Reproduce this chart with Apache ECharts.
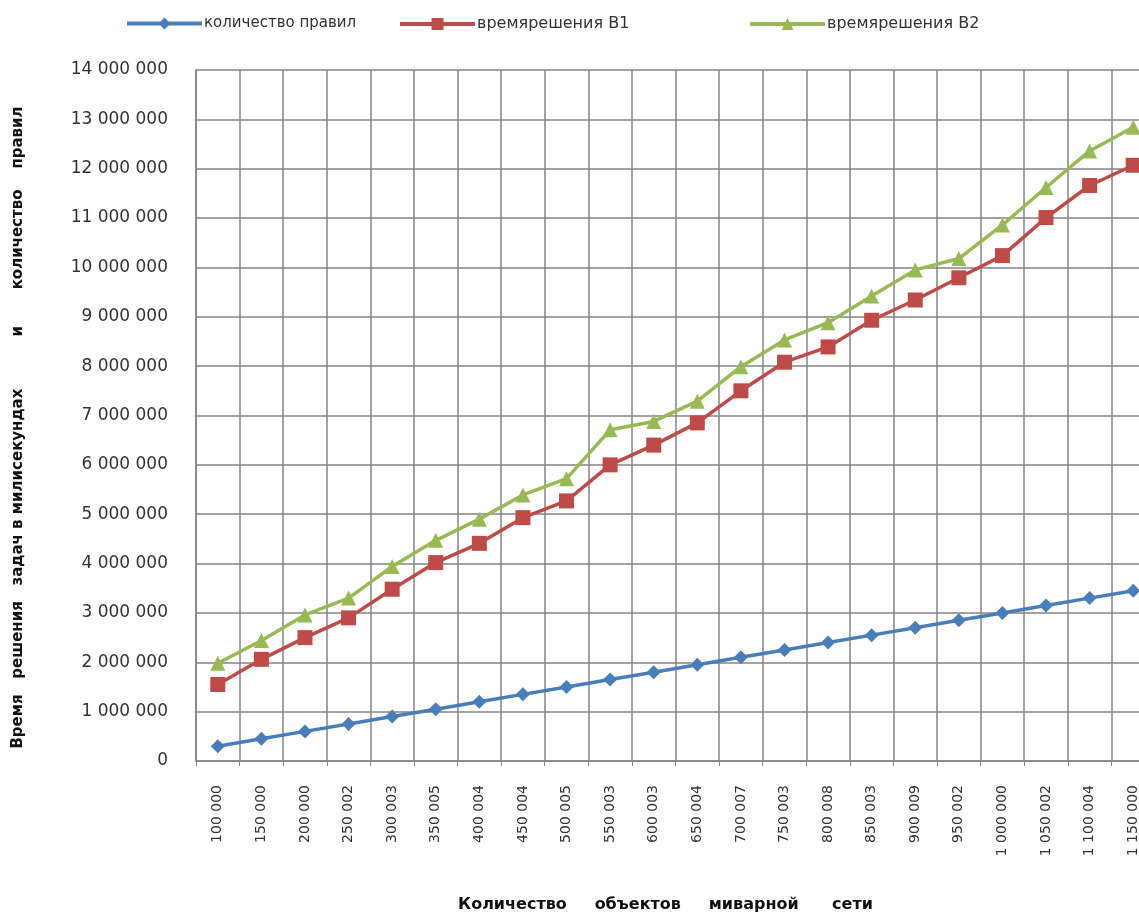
<!DOCTYPE html>
<html>
<head>
<meta charset="utf-8">
<script src="https://cdn.jsdelivr.net/npm/echarts@6/dist/echarts.min.js"></script>
<style>html,body{margin:0;padding:0;background:#fff;overflow:hidden;}#chart{width:1139px;height:916px;}</style>
</head>
<body>
<div id="chart"></div>
<script>
const categories = ['100 000','150 000','200 000','250 002','300 003','350 005','400 004','450 004','500 005','550 003','600 003','650 004','700 007','750 003','800 008','850 003','900 009','950 002','1 000 000','1 050 002','1 100 004','1 150 000'];
const rulesCount = [300000,450000,600000,750000,900000,1050000,1200000,1350000,1500000,1650000,1800000,1950000,2100000,2250000,2400000,2550000,2700000,2850000,3000000,3150000,3300000,3450000];
const timeB1 = [1550000,2060000,2500000,2900000,3480000,4020000,4410000,4930000,5270000,6000000,6400000,6850000,7500000,8080000,8390000,8930000,9340000,9790000,10240000,11010000,11660000,12070000];
const timeB2 = [1980000,2440000,2960000,3300000,3940000,4470000,4900000,5390000,5720000,6710000,6880000,7290000,7990000,8530000,8880000,9420000,9950000,10180000,10860000,11620000,12360000,12840000];
const yTicks = {min: 0, max: 14000000, interval: 1000000};
const seriesNames = ['количество правил','времярешения В1','времярешения В2'];

function fmt(v){ return String(v).replace(/\B(?=(\d{3})+(?!\d))/g,' '); }

const chart = echarts.init(document.getElementById('chart'));
const font = 'DejaVu Sans';
const legendBase = {top: 11, itemWidth: 75, itemHeight: 15, itemGap: 0,
  lineStyle: {width: 4},
  textStyle: {fontFamily: font, fontSize: 15, color: '#333', padding: [0,0,0,-3]}};
chart.setOption({
  animation: false,
  backgroundColor: '#fff',
  legend: [
    Object.assign({}, legendBase, {left: 120, data: [seriesNames[0]]}),
    Object.assign({}, legendBase, {left: 393, data: [seriesNames[1]], textStyle: Object.assign({}, legendBase.textStyle, {fontSize: 16})}),
    Object.assign({}, legendBase, {left: 743, data: [seriesNames[2]], textStyle: Object.assign({}, legendBase.textStyle, {fontSize: 16})})
  ],
  grid: {left: 196, width: 959, top: 70, height: 691, containLabel: false, outerBoundsMode: 'none'},
  xAxis: {
    type: 'category', data: categories, boundaryGap: true,
    axisLine: {lineStyle: {color: '#858585', width: 1.5}},
    axisTick: {show: true, length: 5, lineStyle: {color: '#858585'}},
    splitLine: {show: true, lineStyle: {color: '#858585', width: 1.5}},
    axisLabel: {rotate: 90, fontFamily: font, fontSize: 14, color: '#333', margin: 24, interval: 0},
    name: 'Количество     объектов     миварной      сети',
    nameLocation: 'middle', nameGap: 136,
    nameTextStyle: {fontFamily: font, fontSize: 16, fontWeight: 'bold', color: '#111', padding: [0, 20, 0, 0]}
  },
  yAxis: {
    type: 'value', min: yTicks.min, max: yTicks.max, interval: yTicks.interval,
    axisLine: {show: true, lineStyle: {color: '#858585', width: 1.5}},
    axisTick: {show: false},
    splitLine: {show: true, lineStyle: {color: '#858585', width: 1.5}},
    axisLabel: {formatter: fmt, fontFamily: font, fontSize: 17, color: '#333', margin: 28},
    name: 'Время   решения   задач в милисекундах          и       количество    правил',
    nameLocation: 'middle', nameGap: 170,
    nameTextStyle: {fontFamily: font, fontSize: 15, fontWeight: 'bold', color: '#111', padding: [0, 24, 0, 0]}
  },
  series: [
    {name: seriesNames[0], type: 'line', data: rulesCount, symbol: 'diamond', symbolSize: 14,
     lineStyle: {width: 3.5, color: '#4a7ebb'}, itemStyle: {color: '#4a7ebb'}},
    {name: seriesNames[1], type: 'line', data: timeB1, symbol: 'rect', symbolSize: 15,
     lineStyle: {width: 3.5, color: '#be4b48'}, itemStyle: {color: '#be4b48'}},
    {name: seriesNames[2], type: 'line', data: timeB2, symbol: 'triangle', symbolSize: 15,
     lineStyle: {width: 3.5, color: '#98b954'}, itemStyle: {color: '#98b954'}}
  ]
});
</script>
</body>
</html>
